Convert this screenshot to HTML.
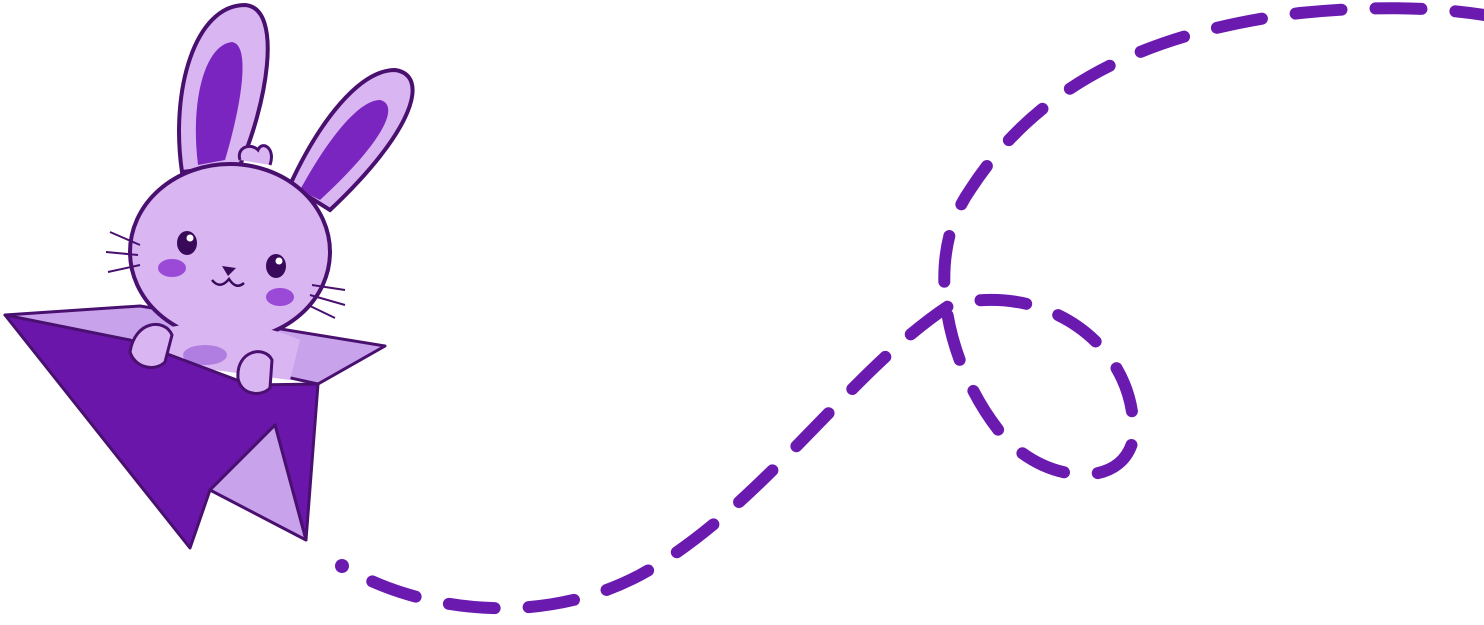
<!DOCTYPE html>
<html><head><meta charset="utf-8"><style>
html,body{margin:0;padding:0;background:#fff;}
svg{display:block;}
</style></head><body>
<svg width="1484" height="625" viewBox="0 0 1484 625" xmlns="http://www.w3.org/2000/svg">
<path d="M342,566 C420,612 540,628 640,575 C760,510 850,370 950,305 C1050,280 1140,350 1133,440 C1120,492 1040,482 1000,432 C950,370 920,262 970,190 C1040,82 1150,32 1300,13 C1380,5 1440,8 1484,15"
 fill="none" stroke="#6b1ab0" stroke-width="12" stroke-linecap="round" stroke-dasharray="46 34" stroke-dashoffset="46"/>
<circle cx="342" cy="566" r="7" fill="#6b1ab0"/>

<polygon points="5,315 140,306 385,346 318,384" fill="#c9a2ec" stroke="#4a1070" stroke-width="3" stroke-linejoin="round"/>
<g stroke="#4a1070" stroke-width="4">
<path d="M182,172 C170,90 195,5 245,5 C285,8 265,110 240,165 Z" fill="#d9b6f2"/>
<path d="M198,165 C190,100 205,45 232,42 C252,45 240,110 225,160 Z" fill="#7a25c0" stroke="none"/>
<path d="M290,185 C320,120 360,70 395,70 C430,75 415,130 330,210 Z" fill="#d9b6f2"/>
<path d="M300,190 C330,135 360,100 380,100 C400,105 385,140 320,200 Z" fill="#7a25c0" stroke="none"/>
<ellipse cx="230" cy="252" rx="100" ry="88" fill="#d9b6f2"/>
</g>
<path d="M240,160 C236,148 250,142 258,150 C262,140 276,148 270,165" fill="#d9b6f2" stroke="#4a1070" stroke-width="3"/>
<g stroke="#4a1070" stroke-width="2" fill="none">
<path d="M140,245 L110,232"/><path d="M138,255 L106,252"/><path d="M140,265 L108,272"/>
<path d="M312,285 L345,290"/><path d="M310,295 L345,305"/><path d="M308,305 L335,318"/>
</g>
<ellipse cx="187" cy="243" rx="10" ry="12" fill="#3a0a5a"/><circle cx="190" cy="238" r="3.5" fill="#fff"/>
<ellipse cx="276" cy="266" rx="10" ry="12" fill="#3a0a5a"/><circle cx="279" cy="261" r="3.5" fill="#fff"/>
<ellipse cx="172" cy="268" rx="14" ry="9" fill="#9b4ad8"/>
<ellipse cx="280" cy="297" rx="14" ry="9" fill="#9b4ad8"/>
<path d="M222,266 L236,268 L228,276 Z" fill="#3a0a5a"/>
<path d="M212,280 Q220,290 229,279 Q236,290 244,283" fill="none" stroke="#3a0a5a" stroke-width="2.5"/>
<path d="M160,330 Q230,310 300,340 L290,380 L140,360 Z" fill="#d9b6f2"/>
<ellipse cx="205" cy="355" rx="22" ry="10" fill="#b07de0"/>
<polygon points="5,315 130,340 250,385 318,384 306,540 275,425 210,490 190,548" fill="#6b16aa" stroke="#4a1070" stroke-width="3" stroke-linejoin="round"/>
<polygon points="210,490 275,425 306,540" fill="#c9a2ec" stroke="#4a1070" stroke-width="3" stroke-linejoin="round"/>
<g fill="#d9b6f2" stroke="#4a1070" stroke-width="3">
<path d="M130,352 C135,320 165,318 172,335 L165,362 C155,372 135,368 130,352 Z"/>
<path d="M238,378 C236,350 265,345 272,360 L270,388 C260,398 240,394 238,378 Z"/>
</g>
</svg>
</body></html>
